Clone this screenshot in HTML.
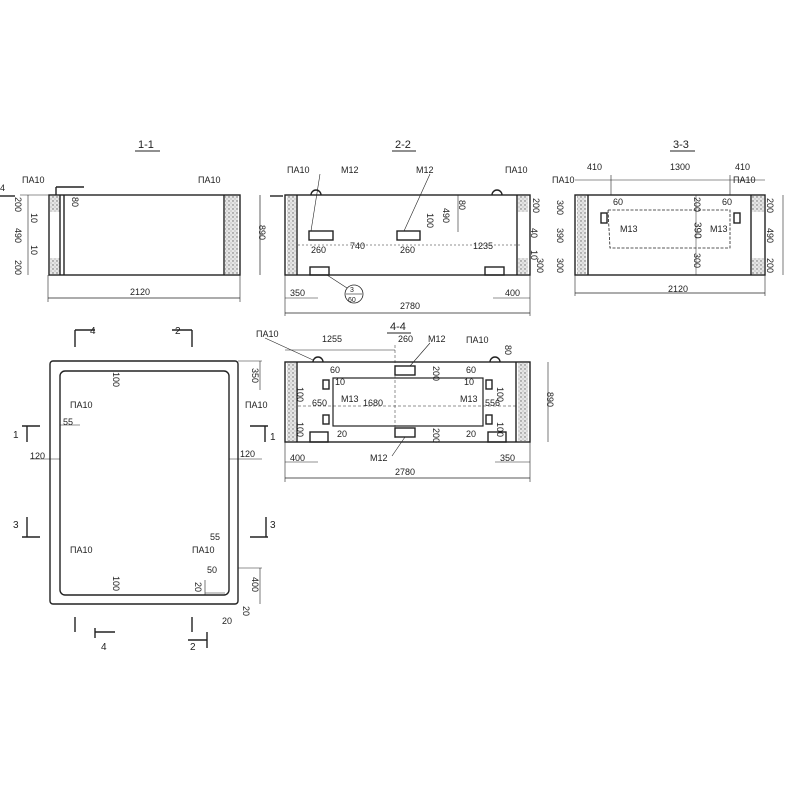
<!DOCTYPE html>
<html><head><meta charset="utf-8"><style>
html,body{margin:0;padding:0;background:#fff;}
svg{display:block;}
text{font-family:"Liberation Sans",sans-serif;font-size:9px;fill:#222;}
.v{writing-mode:tb;}
</style></head><body>
<svg width="800" height="800" viewBox="0 0 800 800" xmlns="http://www.w3.org/2000/svg">
<defs>
<pattern id="h" width="4" height="4" patternUnits="userSpaceOnUse"><rect width="4" height="4" fill="#e6e6e6"/><circle cx="1" cy="1" r="0.7" fill="#666"/><circle cx="3" cy="3" r="0.5" fill="#888"/></pattern>
</defs>
<g stroke="#222" stroke-width="1.4" fill="none">
<!-- 1-1 -->
<rect x="49" y="195" width="191" height="80"/>
<rect x="50" y="196" width="10" height="16" fill="url(#h)" stroke="none"/>
<rect x="50" y="258" width="10" height="16" fill="url(#h)" stroke="none"/>
<line x1="60" y1="195" x2="60" y2="275"/><line x1="64" y1="195" x2="64" y2="275"/>
<rect x="225" y="196" width="13" height="78" fill="url(#h)" stroke="none"/>
<line x1="224" y1="195" x2="224" y2="275"/>
<line x1="56" y1="187" x2="84" y2="187"/><line x1="56" y1="187" x2="56" y2="195"/>
<line x1="20" y1="195" x2="49" y2="195" stroke-width="0.6"/>
<line x1="48" y1="298" x2="240" y2="298" stroke-width="0.7"/><line x1="48" y1="275" x2="48" y2="302" stroke-width="0.6"/><line x1="240" y1="275" x2="240" y2="302" stroke-width="0.6"/>
<line x1="260" y1="195" x2="260" y2="275" stroke-width="0.7"/>
<line x1="28" y1="195" x2="28" y2="275" stroke-width="0.6"/>
<line x1="0" y1="196" x2="15" y2="196"/>
<!-- 2-2 -->
<rect x="285" y="195" width="245" height="80"/>
<rect x="287" y="196" width="9" height="78" fill="url(#h)" stroke="none"/>
<line x1="297" y1="195" x2="297" y2="275"/>
<rect x="518" y="196" width="10" height="16" fill="url(#h)" stroke="none"/>
<rect x="518" y="258" width="10" height="16" fill="url(#h)" stroke="none"/>
<line x1="517" y1="195" x2="517" y2="275"/>
<path d="M311 195 a5 5 0 0 1 10 0"/><path d="M492 195 a5 5 0 0 1 10 0"/>
<rect x="309" y="231" width="24" height="9"/><rect x="397" y="231" width="23" height="9"/>
<rect x="310" y="267" width="19" height="8"/><rect x="485" y="267" width="19" height="8"/>
<circle cx="354" cy="294" r="9" stroke-width="0.8"/><line x1="346" y1="294" x2="362" y2="294" stroke-width="0.6"/>
<line x1="327" y1="275" x2="347" y2="288" stroke-width="0.6"/>
<line x1="320" y1="174" x2="311" y2="231" stroke-width="0.6"/>
<line x1="430" y1="174" x2="404" y2="231" stroke-width="0.6"/>
<line x1="298" y1="245" x2="520" y2="245" stroke-width="0.6" stroke-dasharray="2 2"/>
<line x1="285" y1="298" x2="318" y2="298" stroke-width="0.6"/><line x1="493" y1="298" x2="530" y2="298" stroke-width="0.6"/>
<line x1="285" y1="313" x2="530" y2="313" stroke-width="0.7"/><line x1="285" y1="275" x2="285" y2="316" stroke-width="0.6"/><line x1="530" y1="275" x2="530" y2="316" stroke-width="0.6"/>
<line x1="458" y1="195" x2="458" y2="232" stroke-width="0.6"/>
<line x1="270" y1="196" x2="283" y2="196"/>
<!-- 3-3 -->
<rect x="575" y="195" width="190" height="80"/>
<rect x="577" y="196" width="9" height="78" fill="url(#h)" stroke="none"/>
<line x1="588" y1="195" x2="588" y2="275"/><line x1="751" y1="195" x2="751" y2="275"/>
<rect x="752" y="196" width="12" height="16" fill="url(#h)" stroke="none"/>
<rect x="752" y="258" width="12" height="16" fill="url(#h)" stroke="none"/>
<path d="M608 210 H730 V248 H610 Z" stroke-width="0.8" stroke-dasharray="3 1.5"/>
<rect x="601" y="213" width="6" height="10"/><rect x="734" y="213" width="6" height="10"/>
<line x1="575" y1="180" x2="765" y2="180" stroke-width="0.6"/><line x1="611" y1="175" x2="611" y2="195" stroke-width="0.6"/><line x1="730" y1="175" x2="730" y2="195" stroke-width="0.6"/>
<line x1="575" y1="293" x2="765" y2="293" stroke-width="0.7"/><line x1="575" y1="275" x2="575" y2="296" stroke-width="0.6"/><line x1="765" y1="275" x2="765" y2="296" stroke-width="0.6"/>
<line x1="783" y1="195" x2="783" y2="275" stroke-width="0.6"/>
<line x1="696" y1="195" x2="696" y2="275" stroke-width="0.5"/>
<!-- plan -->
<rect x="50" y="361" width="188" height="243" rx="3"/>
<rect x="60" y="371" width="169" height="224" rx="5"/>
<line x1="75" y1="330" x2="75" y2="347"/><line x1="75" y1="330" x2="95" y2="330"/>
<line x1="192" y1="330" x2="192" y2="347"/><line x1="172" y1="330" x2="192" y2="330"/>
<line x1="22" y1="426" x2="40" y2="426"/><line x1="27" y1="426" x2="27" y2="442"/>
<line x1="250" y1="426" x2="268" y2="426"/><line x1="265" y1="426" x2="265" y2="442"/>
<line x1="22" y1="537" x2="40" y2="537"/><line x1="27" y1="517" x2="27" y2="537"/>
<line x1="250" y1="537" x2="268" y2="537"/><line x1="266" y1="517" x2="266" y2="537"/>
<line x1="75" y1="617" x2="75" y2="632"/><line x1="95" y1="632" x2="115" y2="632"/><line x1="95" y1="628" x2="95" y2="638"/>
<line x1="192" y1="617" x2="192" y2="632"/><line x1="188" y1="640" x2="207" y2="640"/><line x1="207" y1="632" x2="207" y2="648"/>
<line x1="238" y1="361" x2="262" y2="361" stroke-width="0.6"/><line x1="260" y1="361" x2="260" y2="390" stroke-width="0.6"/>
<line x1="238" y1="568" x2="262" y2="568" stroke-width="0.6"/><line x1="260" y1="568" x2="260" y2="604" stroke-width="0.6"/>
<line x1="30" y1="459" x2="60" y2="459" stroke-width="0.6"/><line x1="229" y1="459" x2="262" y2="459" stroke-width="0.6"/>
<line x1="60" y1="425" x2="80" y2="425" stroke-width="0.6"/>
<line x1="205" y1="593" x2="225" y2="593" stroke-width="0.6"/><line x1="205" y1="580" x2="205" y2="595" stroke-width="0.6"/>
<!-- 4-4 -->
<rect x="285" y="362" width="245" height="80"/>
<rect x="287" y="363" width="9" height="78" fill="url(#h)" stroke="none"/>
<line x1="297" y1="362" x2="297" y2="442"/><line x1="516" y1="362" x2="516" y2="442"/>
<rect x="518" y="363" width="10" height="78" fill="url(#h)" stroke="none"/>
<path d="M313 362 a5 5 0 0 1 10 0"/><path d="M490 362 a5 5 0 0 1 10 0"/>
<rect x="333" y="378" width="150" height="48" stroke-width="1.2"/>
<rect x="395" y="366" width="20" height="9"/><rect x="395" y="428" width="20" height="9"/>
<rect x="323" y="380" width="6" height="9"/><rect x="323" y="415" width="6" height="9"/>
<rect x="486" y="380" width="6" height="9"/><rect x="486" y="415" width="6" height="9"/>
<rect x="310" y="432" width="18" height="10"/><rect x="488" y="432" width="18" height="10"/>
<line x1="285" y1="350" x2="395" y2="350" stroke-width="0.6"/><line x1="395" y1="345" x2="395" y2="440" stroke-width="0.5" stroke-dasharray="3 2"/>
<line x1="298" y1="406" x2="516" y2="406" stroke-width="0.5" stroke-dasharray="3 2"/>
<line x1="285" y1="462" x2="318" y2="462" stroke-width="0.6"/><line x1="495" y1="462" x2="530" y2="462" stroke-width="0.6"/>
<line x1="285" y1="478" x2="530" y2="478" stroke-width="0.7"/><line x1="285" y1="442" x2="285" y2="482" stroke-width="0.6"/><line x1="530" y1="442" x2="530" y2="482" stroke-width="0.6"/>
<line x1="548" y1="362" x2="548" y2="442" stroke-width="0.6"/>
<line x1="265" y1="338" x2="313" y2="360" stroke-width="0.6"/>
<line x1="430" y1="343" x2="410" y2="366" stroke-width="0.6"/>
<line x1="405" y1="437" x2="392" y2="456" stroke-width="0.6"/>
</g>
<!-- titles -->
<text x="138" y="148" style="font-size:11px">1-1</text><line x1="135" y1="151" x2="160" y2="151" stroke="#222"/>
<text x="395" y="148" style="font-size:11px">2-2</text><line x1="392" y1="151" x2="416" y2="151" stroke="#222"/>
<text x="673" y="148" style="font-size:11px">3-3</text><line x1="670" y1="151" x2="695" y2="151" stroke="#222"/>
<text x="390" y="330" style="font-size:11px">4-4</text><line x1="387" y1="333" x2="411" y2="333" stroke="#222"/>
<!-- 1-1 labels -->
<text x="22" y="183">ПА10</text><text x="198" y="183">ПА10</text>
<text x="130" y="295">2120</text><text x="262" y="225" class="v">890</text>
<text x="18" y="197" class="v">200</text><text x="18" y="228" class="v">490</text><text x="18" y="260" class="v">200</text>
<text x="34" y="213" class="v">10</text><text x="34" y="245" class="v">10</text><text x="75" y="197" class="v">80</text>
<text x="0" y="191">4</text>
<!-- 2-2 labels -->
<text x="287" y="173">ПА10</text><text x="341" y="173">М12</text><text x="416" y="173">М12</text><text x="505" y="173">ПА10</text>
<text x="311" y="253">260</text><text x="350" y="249">740</text><text x="400" y="253">260</text><text x="473" y="249">1235</text>
<text x="290" y="296">350</text><text x="505" y="296">400</text><text x="400" y="309">2780</text>
<text x="350" y="292" style="font-size:7px">3</text><text x="348" y="302" style="font-size:7px">60</text>
<text x="430" y="213" class="v">100</text><text x="446" y="208" class="v">490</text><text x="462" y="200" class="v">80</text>
<text x="536" y="198" class="v">200</text><text x="534" y="228" class="v">40</text><text x="534" y="250" class="v">10</text><text x="540" y="258" class="v">300</text>
<!-- 3-3 labels -->
<text x="587" y="170">410</text><text x="670" y="170">1300</text><text x="735" y="170">410</text>
<text x="552" y="183">ПА10</text><text x="733" y="183">ПА10</text>
<text x="613" y="205">60</text><text x="722" y="205">60</text>
<text x="620" y="232">М13</text><text x="710" y="232">М13</text>
<text x="697" y="197" class="v">200</text><text x="697" y="222" class="v" style="font-size:10px">390</text><text x="697" y="253" class="v">300</text>
<text x="668" y="292">2120</text>
<text x="770" y="198" class="v">200</text><text x="770" y="228" class="v">490</text><text x="770" y="258" class="v">200</text>
<text x="560" y="200" class="v">300</text><text x="560" y="228" class="v">390</text><text x="560" y="258" class="v">300</text>
<!-- plan labels -->
<text x="90" y="334" style="font-size:10px">4</text><text x="175" y="334" style="font-size:10px">2</text>
<text x="13" y="438" style="font-size:10px">1</text><text x="270" y="440" style="font-size:10px">1</text>
<text x="13" y="528" style="font-size:10px">3</text><text x="270" y="528" style="font-size:10px">3</text>
<text x="101" y="650" style="font-size:10px">4</text><text x="190" y="650" style="font-size:10px">2</text>
<text x="70" y="408">ПА10</text><text x="245" y="408">ПА10</text>
<text x="70" y="553">ПА10</text><text x="192" y="553">ПА10</text>
<text x="63" y="425">55</text><text x="210" y="540">55</text><text x="207" y="573">50</text>
<text x="30" y="459">120</text><text x="240" y="457">120</text>
<text x="116" y="372" class="v">100</text><text x="116" y="576" class="v">100</text>
<text x="255" y="368" class="v">350</text><text x="255" y="577" class="v">400</text>
<text x="246" y="606" class="v">20</text><text x="222" y="624">20</text><text x="198" y="582" class="v">20</text>
<!-- 4-4 labels -->
<text x="256" y="337">ПА10</text><text x="322" y="342">1255</text><text x="398" y="342">260</text><text x="428" y="342">М12</text><text x="466" y="343">ПА10</text>
<text x="508" y="345" class="v">80</text>
<text x="330" y="373">60</text><text x="466" y="373">60</text>
<text x="335" y="385">10</text><text x="464" y="385">10</text>
<text x="312" y="406">650</text><text x="341" y="402">М13</text><text x="363" y="406">1680</text><text x="460" y="402">М13</text><text x="485" y="406">556</text>
<text x="337" y="437">20</text><text x="466" y="437">20</text>
<text x="370" y="461">М12</text>
<text x="290" y="461">400</text><text x="500" y="461">350</text><text x="395" y="475">2780</text>
<text x="550" y="392" class="v">890</text>
<text x="300" y="387" class="v">100</text><text x="300" y="422" class="v">100</text><text x="500" y="387" class="v">100</text><text x="500" y="422" class="v">100</text>
<text x="436" y="366" class="v">200</text><text x="436" y="428" class="v">200</text>
</svg>
</body></html>
